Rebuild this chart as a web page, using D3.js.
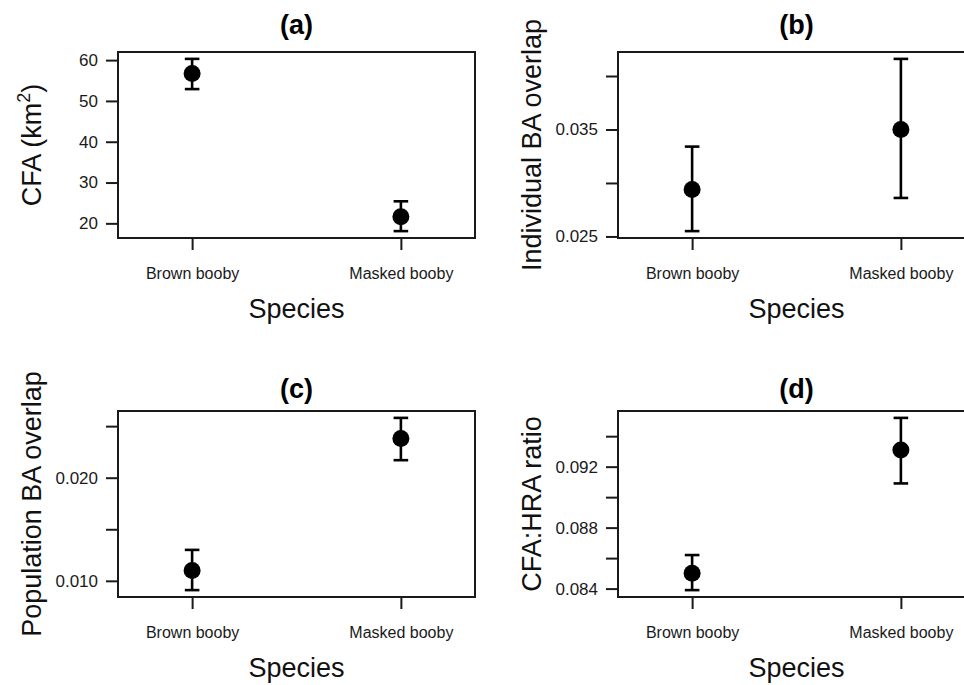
<!DOCTYPE html>
<html>
<head>
<meta charset="utf-8">
<script src="https://cdnjs.cloudflare.com/ajax/libs/d3/7.8.5/d3.min.js"></script>
<style>
  body { margin: 0; background: #fff; }
  svg { display: block; font-family: Arial, "Liberation Sans", sans-serif; }
</style>
</head>
<body>
<script>
// categories
var species = ['Brown booby', 'Masked booby'];

// (a) CFA (km2)
var cfaMean  = [56.7, 21.6];
var cfaLower = [52.9, 18.1];
var cfaUpper = [60.3, 25.4];
var cfaTicks = [20, 30, 40, 50, 60];
var cfaLabels = ['20', '30', '40', '50', '60'];

// (b) individual BA overlap
var indMean  = [0.0294, 0.0350];
var indLower = [0.0255, 0.0286];
var indUpper = [0.0334, 0.0416];
var indTicks = [0.025, 0.030, 0.035, 0.040];
var indLabels = ['0.025', '', '0.035', ''];

// (c) population BA overlap
var popMean  = [0.0110, 0.0238];
var popLower = [0.0091, 0.0217];
var popUpper = [0.0130, 0.0258];
var popTicks = [0.010, 0.015, 0.020, 0.025];
var popLabels = ['0.010', '', '0.020', ''];

// (d) CFA:HRA ratio
var ratioMean  = [0.0850, 0.0931];
var ratioLower = [0.0839, 0.0909];
var ratioUpper = [0.0862, 0.0952];
var ratioTicks = [0.084, 0.086, 0.088, 0.090, 0.092, 0.094];
var ratioLabels = ['0.084', '', '0.088', '', '0.092', ''];

var titles = ['(a)', '(b)', '(c)', '(d)'];
var xTitle = 'Species';

var svgWidth = 964, svgHeight = 685;
var boxW = 357, boxH = 186;

var svg = d3.select('body').append('svg')
  .attr('width', svgWidth)
  .attr('height', svgHeight);

// layout of the four panels
var panels = [
  {left: 118, top: 52,  titleGap: 18, mean: cfaMean, lower: cfaLower, upper: cfaUpper, ticks: cfaTicks, labels: cfaLabels, ylab: 'CFA (km2)'},
  {left: 618, top: 52,  titleGap: 18, mean: indMean, lower: indLower, upper: indUpper, ticks: indTicks, labels: indLabels, ylab: 'Individual BA overlap'},
  {left: 118, top: 411, titleGap: 13, mean: popMean, lower: popLower, upper: popUpper, ticks: popTicks, labels: popLabels, ylab: 'Population BA overlap'},
  {left: 618, top: 411, titleGap: 13, mean: ratioMean, lower: ratioLower, upper: ratioUpper, ticks: ratioTicks, labels: ratioLabels, ylab: 'CFA:HRA ratio'}
];

panels.forEach(function(p, k) {
  var g = svg.append('g').attr('transform', 'translate(' + p.left + ',' + p.top + ')');

  // R-style 4% padding round the error bar range
  var lo = d3.min(p.lower), hi = d3.max(p.upper);
  var pad = (hi - lo) * 0.04;
  var y = d3.scaleLinear().domain([lo - pad, hi + pad]).range([boxH, 0]);
  var x = d3.scalePoint().domain(species).range([0, boxW]).padding(0.355);

  var yAxis = g.append('g')
    .call(d3.axisLeft(y).tickValues(p.ticks).tickSize(12).tickPadding(8)
      .tickFormat(function(d, i) { return p.labels[i]; }));
  yAxis.select('.domain').remove();
  yAxis.selectAll('line').attr('stroke', '#1a1a1a').attr('stroke-width', 2);
  yAxis.selectAll('text').attr('font-size', 17).attr('fill', '#1a1a1a')
    .attr('font-family', 'Arial, "Liberation Sans", sans-serif');

  var xAxis = g.append('g').attr('transform', 'translate(0,' + boxH + ')')
    .call(d3.axisBottom(x).tickSize(12).tickPadding(18));
  xAxis.select('.domain').remove();
  xAxis.selectAll('line').attr('stroke', '#1a1a1a').attr('stroke-width', 2);
  xAxis.selectAll('text').attr('font-size', 16).attr('fill', '#1a1a1a')
    .attr('font-family', 'Arial, "Liberation Sans", sans-serif');

  g.append('rect')
    .attr('width', boxW).attr('height', boxH)
    .attr('fill', 'none').attr('stroke', '#1a1a1a').attr('stroke-width', 2);

  var pts = species.map(function(s, i) {
    return {sp: s, m: p.mean[i], lo: p.lower[i], hi: p.upper[i]};
  });

  var bars = g.selectAll('.bar').data(pts).enter().append('g').attr('class', 'bar');
  bars.append('line')
    .attr('x1', function(d) { return x(d.sp); }).attr('x2', function(d) { return x(d.sp); })
    .attr('y1', function(d) { return y(d.lo); }).attr('y2', function(d) { return y(d.hi); })
    .attr('stroke', '#000').attr('stroke-width', 2.6);
  ['lo', 'hi'].forEach(function(key) {
    bars.append('line')
      .attr('x1', function(d) { return x(d.sp) - 7.3; }).attr('x2', function(d) { return x(d.sp) + 7.3; })
      .attr('y1', function(d) { return y(d[key]); }).attr('y2', function(d) { return y(d[key]); })
      .attr('stroke', '#000').attr('stroke-width', 2.6);
  });
  bars.append('circle')
    .attr('cx', function(d) { return x(d.sp); })
    .attr('cy', function(d) { return y(d.m); })
    .attr('r', 8.5).attr('fill', '#000');

  // title
  svg.append('text')
    .attr('x', p.left + boxW / 2).attr('y', p.top - p.titleGap)
    .attr('text-anchor', 'middle').attr('font-size', 27).attr('font-weight', 'bold')
    .text(titles[k]);

  // x title
  svg.append('text')
    .attr('x', p.left + boxW / 2).attr('y', p.top + boxH + 80)
    .attr('text-anchor', 'middle').attr('font-size', 27).attr('fill', '#111')
    .text(xTitle);

  // y title
  var yt = svg.append('text')
    .attr('transform', 'translate(' + (p.left - 77) + ',' + (p.top + boxH / 2) + ') rotate(-90)')
    .attr('text-anchor', 'middle').attr('font-size', 27).attr('fill', '#111');
  if (p.ylab === 'CFA (km2)') {
    yt.append('tspan').text('CFA (km');
    yt.append('tspan').attr('font-size', 18).attr('dy', -11).text('2');
    yt.append('tspan').attr('dy', 11).text(')');
  } else {
    yt.text(p.ylab);
  }
});
</script>
</body>
</html>
